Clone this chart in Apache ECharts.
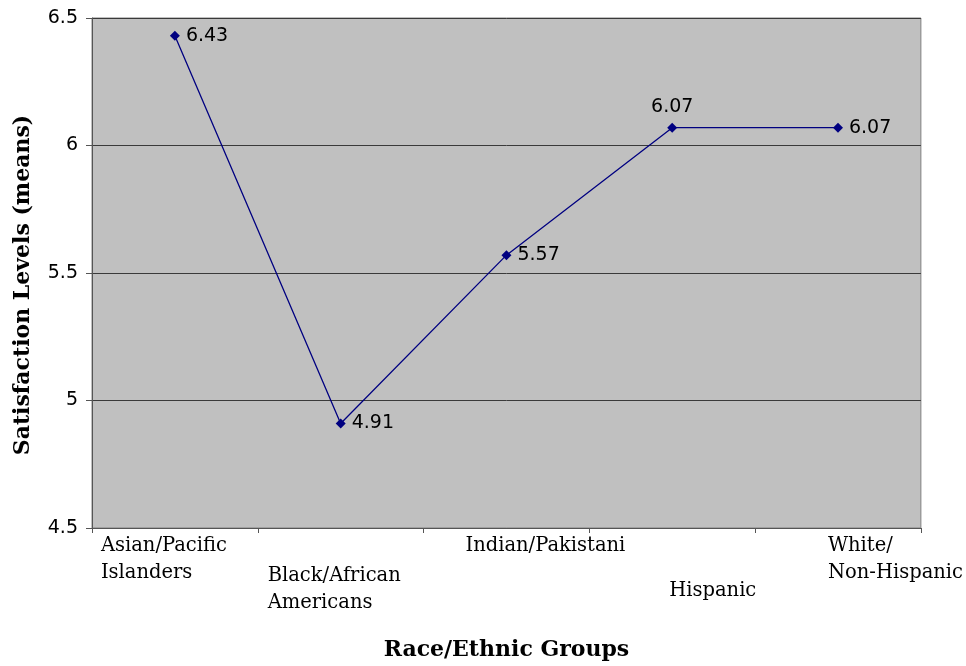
<!DOCTYPE html>
<html>
<head>
<meta charset="utf-8">
<script src="https://cdn.jsdelivr.net/npm/echarts@6/dist/echarts.min.js"></script>
<style>
  html, body { margin: 0; padding: 0; background: #ffffff; }
  #chart { width: 966px; height: 666px; }
</style>
</head>
<body>
<div id="chart"></div>
<script>
// Race/ethnic groups (line breaks as shown under the axis)
const categories = [
  'Asian/Pacific\nIslanders',
  'Black/African\nAmericans',
  'Indian/Pakistani',
  'Hispanic',
  'White/\nNon-Hispanic'
];
// Mean satisfaction level per group
const satisfactionMeans = [6.43, 4.91, 5.57, 6.07, 6.07];
// Value axis range
const yMin = 4.5;
const yMax = 6.5;
const yStep = 0.5;

const serif = '"DejaVu Serif", "Liberation Serif", serif';
const sans = '"DejaVu Sans", "Liberation Sans", Arial, sans-serif';

// Staggered category label placement: horizontal nudge and extra drop per label
const labelNudgeX = [-74, -73, -41, -3, -10];
const labelDropY = [0, 30, 0, 45, 0];

const rich = {};
categories.forEach(function (c, i) {
  rich['c' + i] = {
    fontFamily: serif,
    fontSize: 19.5,
    lineHeight: 27,
    color: '#000',
    padding: [0, 0, 0, labelNudgeX[i]]
  };
  rich['s' + i] = {
    fontSize: 1,
    lineHeight: labelDropY[i] || 1
  };
});

const chart = echarts.init(document.getElementById('chart'));
chart.setOption({
  animation: false,
  backgroundColor: '#ffffff',
  grid: {
    left: 92,
    right: 45,
    top: 18,
    bottom: 136,
    show: true,
    backgroundColor: '#C0C0C0',
    borderColor: '#808080',
    borderWidth: 1
  },
  xAxis: {
    type: 'category',
    data: categories,
    boundaryGap: true,
    name: 'Race/Ethnic Groups',
    nameLocation: 'middle',
    nameGap: 111,
    nameTextStyle: {
      fontFamily: serif,
      fontWeight: 'bold',
      fontSize: 22,
      color: '#000'
    },
    axisLine: { lineStyle: { color: '#555', width: 1 } },
    axisTick: { show: true, length: 5, lineStyle: { color: '#555' } },
    axisLabel: {
      interval: 0,
      margin: 4,
      align: 'left',
      verticalAlign: 'top',
      formatter: function (value, idx) {
        const lines = value.split('\n').map(function (t) {
          return '{c' + idx + '|' + t + '}';
        });
        if (labelDropY[idx]) {
          lines.unshift('{s' + idx + '| }');
        }
        return lines.join('\n');
      },
      rich: rich
    },
    splitLine: { show: false }
  },
  yAxis: {
    type: 'value',
    min: yMin,
    max: yMax,
    interval: yStep,
    name: 'Satisfaction Levels (means)',
    nameLocation: 'middle',
    nameGap: 58,
    nameTextStyle: {
      fontFamily: serif,
      fontWeight: 'bold',
      fontSize: 22,
      color: '#000',
      padding: [0, 24, 0, 0]
    },
    axisLine: { show: true, lineStyle: { color: '#555', width: 1 } },
    axisTick: { show: true, length: 6, lineStyle: { color: '#555' } },
    axisLabel: {
      margin: 14,
      fontFamily: sans,
      fontSize: 19,
      color: '#000',
      formatter: function (v) { return String(v); }
    },
    splitLine: { show: true, lineStyle: { color: '#3a3a3a', width: 1 } }
  },
  series: [{
    type: 'line',
    data: satisfactionMeans.map(function (v, i) {
      return { value: v, label: { position: i === 3 ? 'top' : 'right' } };
    }),
    symbol: 'diamond',
    symbolSize: 10,
    lineStyle: { color: '#000080', width: 1.3 },
    itemStyle: { color: '#000080' },
    label: {
      show: true,
      distance: 6,
      fontFamily: sans,
      fontSize: 19,
      color: '#000',
      formatter: function (p) { return p.value.toFixed(2); }
    }
  }]
});
</script>
</body>
</html>
